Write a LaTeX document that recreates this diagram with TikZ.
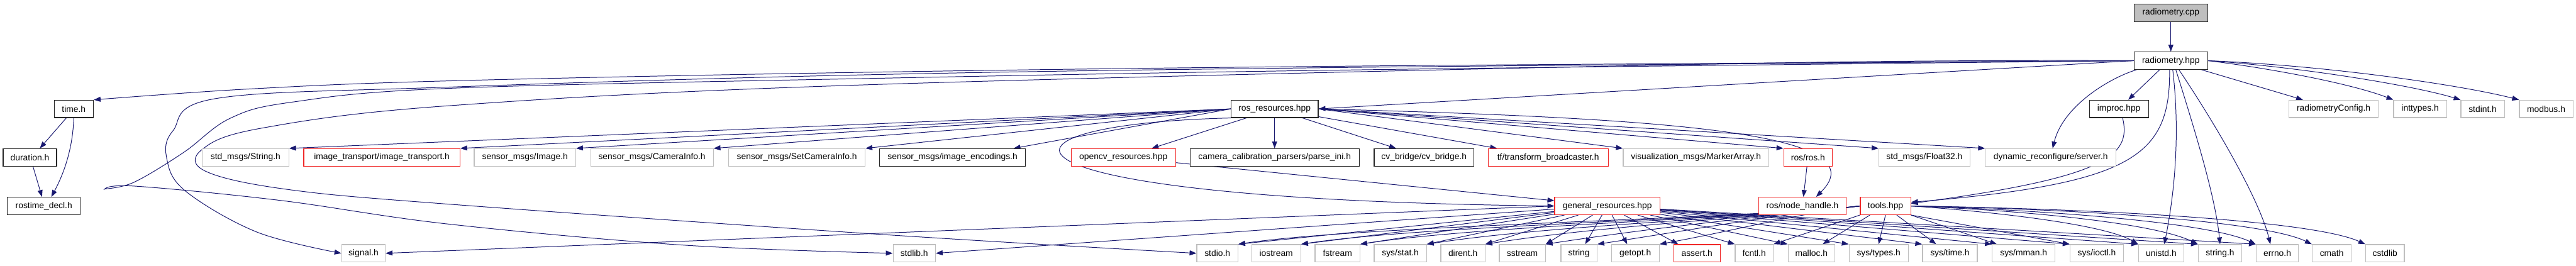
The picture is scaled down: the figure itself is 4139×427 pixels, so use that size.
\documentclass[tikz,border=0pt]{standalone}
\usepackage{fontspec}
\setmainfont{Liberation Sans}
\usepackage{tikz}
\usetikzlibrary{arrows.meta, backgrounds}
\definecolor{edgeblue}{RGB}{25,25,112}
\definecolor{extgray}{RGB}{191,191,191}
\definecolor{incred}{RGB}{240,40,40}

\begin{document}
\begin{tikzpicture}[
  x=1pt, y=-1pt,
  file/.style={rectangle, minimum height=28pt, inner sep=1pt, line width=1.2pt,
              font=\fontsize{14}{16}\selectfont},
  rootfile/.style={file, draw=black!80, fill=extgray},
  docfile/.style={file, draw=black!85, fill=white},
  redfile/.style={file, draw=incred, fill=white},
  extfile/.style={file, draw=extgray, fill=white},
  dep/.style={-{Triangle[length=11pt,width=8pt]}, edgeblue, line width=1pt}
]
\useasboundingbox (0,0) rectangle (4139,427);

% top two levels
\node[rootfile, minimum width=118pt] (root) at (3488,20.5) {radiometry.cpp};
\node[docfile, minimum width=118pt] (rhpp) at (3488,97.5) {radiometry.hpp};

% row 2
\node[docfile, minimum width=63pt] (timeh) at (118.5,175) {time.h};
\node[docfile, minimum width=140pt] (rosres) at (2048,175) {ros\_resources.hpp};
\node[docfile, minimum width=95pt] (improc) at (3404.5,175) {improc.hpp};
\node[extfile, minimum width=143pt] (rconf) at (3749.5,175) {radiometryConfig.h};
\node[extfile, minimum width=85pt] (inttypes) at (3888.5,175) {inttypes.h};
\node[extfile, minimum width=70pt] (stdint) at (3989,175) {stdint.h};
\node[extfile, minimum width=86pt] (modbus) at (4091,175) {modbus.h};

% row 3
\node[docfile, minimum width=86pt] (duration) at (48,253) {duration.h};
\node[extfile, minimum width=139pt] (stdstring) at (394.5,253) {std\_msgs/String.h};
\node[redfile, minimum width=251pt] (imgtr) at (613.5,253) {image\_transport/image\_transport.h};
\node[extfile, minimum width=163pt] (sensimg) at (843.5,253) {sensor\_msgs/Image.h};
\node[extfile, minimum width=197pt] (caminfo) at (1047.5,253) {sensor\_msgs/CameraInfo.h};
\node[extfile, minimum width=219pt] (setcam) at (1280.5,253) {sensor\_msgs/SetCameraInfo.h};
\node[docfile, minimum width=235pt] (imgenc) at (1530.5,253) {sensor\_msgs/image\_encodings.h};
\node[redfile, minimum width=168pt] (opencv) at (1805,253) {opencv\_resources.hpp};
\node[docfile, minimum width=272pt] (calib) at (2048,253) {camera\_calibration\_parsers/parse\_ini.h};
\node[docfile, minimum width=160pt] (cvbridge) at (2288,253) {cv\_bridge/cv\_bridge.h};
\node[redfile, minimum width=193pt] (tfb) at (2487.5,253) {tf/transform\_broadcaster.h};
\node[extfile, minimum width=234pt] (marker) at (2725,253) {visualization\_msgs/MarkerArray.h};
\node[redfile, minimum width=78pt] (rosh) at (2905,253) {ros/ros.h};
\node[extfile, minimum width=146pt] (float32) at (3092,253) {std\_msgs/Float32.h};
\node[extfile, minimum width=210pt] (dynrec) at (3295,253) {dynamic\_reconfigure/server.h};

% row 4
\node[docfile, minimum width=117pt] (rostime) at (70.5,331) {rostime\_decl.h};
\node[redfile, minimum width=169pt] (general) at (2582.5,331) {general\_resources.hpp};
\node[redfile, minimum width=140pt] (nodeh) at (2896,331) {ros/node\_handle.h};
\node[redfile, minimum width=81pt] (tools) at (3029.5,331) {tools.hpp};

% row 5
\node[extfile, minimum width=70pt] (signal) at (584,407) {signal.h};
\node[extfile, minimum width=68pt] (stdlib) at (1469,407) {stdlib.h};
\node[extfile, minimum width=66pt] (stdio) at (1956,407) {stdio.h};
\node[extfile, minimum width=79pt] (iostream) at (2050.5,407) {iostream};
\node[extfile, minimum width=72pt] (fstream) at (2149,407) {fstream};
\node[extfile, minimum width=84pt] (sysstat) at (2250,407) {sys/stat.h};
\node[extfile, minimum width=71pt] (dirent) at (2350.5,407) {dirent.h};
\node[extfile, minimum width=74pt] (sstream) at (2446,407) {sstream};
\node[extfile, minimum width=58pt] (string) at (2537,407) {string};
\node[extfile, minimum width=77pt] (getopt) at (2627.5,407) {getopt.h};
\node[redfile, minimum width=75pt] (assert) at (2726.5,407) {assert.h};
\node[extfile, minimum width=61pt] (fcntl) at (2818.5,407) {fcntl.h};
\node[extfile, minimum width=75pt] (malloc) at (2910.5,407) {malloc.h};
\node[extfile, minimum width=95pt] (systypes) at (3018.5,407) {sys/types.h};
\node[extfile, minimum width=88pt] (systime) at (3133,407) {sys/time.h};
\node[extfile, minimum width=101pt] (sysmman) at (3251.5,407) {sys/mman.h};
\node[extfile, minimum width=86pt] (sysioctl) at (3369,407) {sys/ioctl.h};
\node[extfile, minimum width=73pt] (unistd) at (3472.5,407) {unistd.h};
\node[extfile, minimum width=70pt] (stringh) at (3567,407) {string.h};
\node[extfile, minimum width=68pt] (errno) at (3659,407) {errno.h};
\node[extfile, minimum width=63pt] (cmath) at (3746.5,407) {cmath};
\node[extfile, minimum width=62pt] (cstdlib) at (3832,407) {cstdlib};

\begin{scope}[on background layer]
% radiometry.cpp / radiometry.hpp
\draw[dep] (root)--(rhpp);
\draw[dep] plot[smooth, tension=0.6] coordinates {(rhpp.west) (2200,106) (1400,116) (720,130) (400,143) (timeh.north east)};
\draw[dep] plot[smooth, tension=0.6] coordinates {(rhpp.west) (2200,108) (1400,120) (720,140) (349,158) (278,210) (268,255) (298,307) (413,373) (signal.west)};
\draw[dep] plot[smooth, tension=0.6] coordinates {(rhpp.west) (2200,112) (1400,126) (720,142) (470,164) (370,190) (295,245) (215,293) (168,304) (215,299) (450,322) (720,360) (1100,394) (stdlib.west)};
\draw[dep] plot[smooth, tension=0.6] coordinates {(rhpp.west) (2800,102) (1400,136) (720,170) (420,206) (325,240) (330,275) (459,304) (720,328) (1420,377) (stdio.west)};
\draw[dep] (rhpp.west)--(rosres.east);
\draw[dep] ([xshift=-18pt]rhpp.south)--([xshift=15pt]improc.north);
\draw[dep] ([xshift=-55pt]rhpp.south) .. controls (3390,125) and (3315,170) .. ([xshift=3pt]dynrec.north);
\draw[dep] ([xshift=-2pt]rhpp.south) .. controls (3487,250) and (3430,295) .. ([yshift=6pt]tools.east);
\draw[dep] ([xshift=3pt]rhpp.south) .. controls (3505,230) and (3490,330) .. ([xshift=5pt]unistd.north);
\draw[dep] ([xshift=8pt]rhpp.south) .. controls (3530,220) and (3560,320) .. (stringh.north);
\draw[dep] ([xshift=13pt]rhpp.south) .. controls (3560,200) and (3630,320) .. ([xshift=-11pt]errno.north);
\draw[dep] (rhpp)--(rconf);
\draw[dep] (rhpp.east) .. controls (3650,110) and (3780,135) .. (inttypes.north west);
\draw[dep] (rhpp.east) .. controls (3700,108) and (3880,138) .. (stdint.north west);
\draw[dep] (rhpp.east) .. controls (3750,106) and (3960,138) .. (modbus.north west);

% time.h
\draw[dep] ([xshift=-12pt]timeh.south)--([xshift=16pt]duration.north);
\draw[dep] (timeh.south) .. controls (117,240) and (102,280) .. ([xshift=12pt]rostime.north);
\draw[dep] ([xshift=5pt]duration.south)--([xshift=-3pt]rostime.north);

% ros_resources.hpp
\draw[dep] (rosres.west)--(stdstring.north east);
\draw[dep] (rosres.west)--(imgtr.north east);
\draw[dep] (rosres.west)--(sensimg.north east);
\draw[dep] (rosres.west)--(caminfo.north east);
\draw[dep] (rosres.west)--(setcam.north east);
\draw[dep] (rosres.west)--([xshift=-20pt]imgenc.north east);
\draw[dep] (rosres)--(opencv);
\draw[dep] (rosres)--(calib);
\draw[dep] (rosres)--(cvbridge);
\draw[dep] (rosres)--(tfb);
\draw[dep] (rosres.east)--(marker.north west);
\draw[dep] (rosres.east)--(rosh.north west);
\draw[dep] (rosres.east)--(float32.north west);
\draw[dep] (rosres.east)--(dynrec.north west);
\draw[dep] (rosres.east) .. controls (2700,190) and (3020,215) .. ([xshift=22pt]nodeh.north);
\draw[dep] (rosres.south west) .. controls (1550,200) and (1550,320) .. (general.west);
\draw[dep] (opencv)--(general);
\draw[dep] (rosh)--(nodeh);

% improc.hpp
\draw[dep] ([xshift=6pt]improc.south) .. controls (3425,250) and (3385,285) .. ([yshift=4pt]tools.east);

% general_resources.hpp
\draw[dep] (general.west)--(signal.east);
\draw[dep] ([yshift=-5pt]general.west)--(stdlib.east);
\draw[dep] (general)--(stdio.north east);
\draw[dep] (general)--(iostream.north east);
\draw[dep] (general)--(fstream.north east);
\draw[dep] (general)--(sysstat.north east);
\draw[dep] (general)--(dirent.north east);
\draw[dep] (general)--(sstream.north east);
\draw[dep] (general)--([xshift=10pt]string.north);
\draw[dep] (general)--([xshift=-13pt]getopt.north);
\draw[dep] (general)--([xshift=8pt]assert.north west);
\draw[dep] (general)--(fcntl.north west);
\draw[dep] (general)--(malloc.north west);
\draw[dep] (general)--(systypes.north west);
\draw[dep] (general)--(systime.north west);
\draw[dep] (general)--(sysmman.north west);
\draw[dep] (general)--(sysioctl.north west);
\draw[dep] (general)--(unistd.north west);
\draw[dep] (general)--(stringh.north west);
\draw[dep] (general)--(errno.north west);

% tools.hpp
\draw[dep] (tools.west) .. controls (2800,352) and (2190,362) .. (stdio.north east);
\draw[dep] (tools.west) .. controls (2800,352) and (2290,362) .. (iostream.north east);
\draw[dep] (tools.west) .. controls (2800,352) and (2385,362) .. (fstream.north east);
\draw[dep] (tools.west) .. controls (2800,352) and (2490,362) .. (sysstat.north east);
\draw[dep] (tools.west) .. controls (2800,352) and (2580,362) .. (dirent.north east);
\draw[dep] (tools.west) .. controls (2800,352) and (2670,364) .. (sstream.north east);
\draw[dep] (tools.west) .. controls (2820,350) and (2740,366) .. (string.north east);
\draw[dep] (tools.west) .. controls (2880,345) and (2800,368) .. (getopt.north east);
\draw[dep] (tools.south west)--(fcntl.north east);
\draw[dep] ([xshift=-25pt]tools.south)--([xshift=18pt]malloc.north);
\draw[dep] (tools.south)--(systypes.north);
\draw[dep] ([xshift=18pt]tools.south)--([xshift=-22pt]systime.north);
\draw[dep] (tools.south east)--([xshift=8pt]sysmman.north west);
\draw[dep] (tools.south east)--(sysioctl.north west);
\draw[dep] (tools.east) .. controls (3200,340) and (3380,360) .. (unistd.north west);
\draw[dep] (tools.east) .. controls (3250,338) and (3460,358) .. (stringh.north west);
\draw[dep] (tools.east) .. controls (3300,338) and (3550,358) .. (errno.north west);
\draw[dep] (tools.east) .. controls (3350,336) and (3640,356) .. (cmath.north west);
\draw[dep] (tools.east) .. controls (3400,336) and (3720,356) .. (cstdlib.north west);
\end{scope}
\end{tikzpicture}
\end{document}
